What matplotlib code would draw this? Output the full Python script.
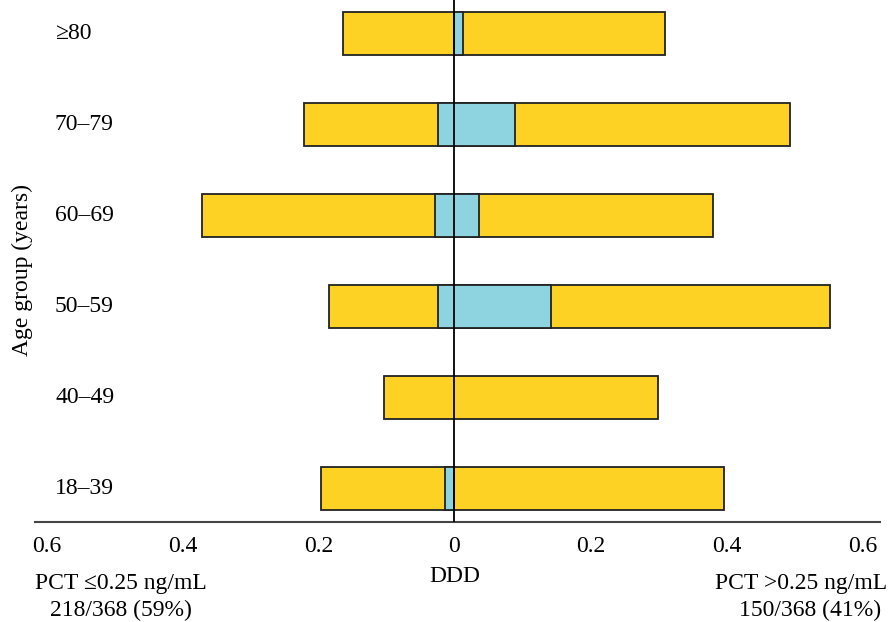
import numpy as np
import matplotlib
matplotlib.use("Agg")
from matplotlib import pyplot as plt
from matplotlib import transforms

plt.rcParams['font.family'] = ['Liberation Serif', 'DejaVu Serif']

# age groups, bottom to top
groups = ['18–39', '40–49', '50–59', '60–69', '70–79', '≥80']
# DDD, PCT <=0.25 side (drawn to the left)
low_total = [0.196, 0.104, 0.184, 0.371, 0.221, 0.164]
low_part = [0.014, 0.0, 0.024, 0.028, 0.024, 0.0]
# DDD, PCT >0.25 side (drawn to the right)
high_total = [0.397, 0.299, 0.553, 0.381, 0.494, 0.310]
high_part = [0.0, 0.0, 0.142, 0.036, 0.089, 0.013]

ticks = [-0.6, -0.4, -0.2, 0, 0.2, 0.4, 0.6]
tick_labels = ['0.6', '0.4', '0.2', '0', '0.2', '0.4', '0.6']

yellow = '#fdd224'
cyan = '#8dd4e0'
fs = 17

fig = plt.figure(figsize=(8.92, 6.22), dpi=100)
ax = fig.add_axes([35/892, 100/622, 845/892, 522/622])

y = np.arange(len(groups))
low_total = np.array(low_total)
high_total = np.array(high_total)
low_part = np.array(low_part)
high_part = np.array(high_part)

ax.barh(y, low_total + high_total, left=-low_total, height=0.48,
        color=yellow, edgecolor='#222222', linewidth=1.3, zorder=2)
has_part = (low_part + high_part) > 0
ax.barh(y[has_part], (low_part + high_part)[has_part], left=-low_part[has_part],
        height=0.48, color=cyan, edgecolor='#222222', linewidth=1.3, zorder=3)

ax.axvline(0, color='black', linewidth=1.3, zorder=4)

ax.set_xlim(-0.617, 0.626)
ax.set_ylim(-0.37, 5.37)
for s in ['top', 'right', 'left']:
    ax.spines[s].set_visible(False)
ax.spines['bottom'].set_color('#444444')
ax.spines['bottom'].set_linewidth(1.5)

ax.set_xticks(ticks)
ax.set_xticklabels(tick_labels, fontsize=fs)
ax.tick_params(axis='x', length=0, pad=10)
ax.set_yticks([])

trans = transforms.blended_transform_factory(ax.transAxes, ax.transData)
for yi, g in zip(y, groups):
    ax.text(20/845, yi, g, transform=trans, ha='left', va='center', fontsize=fs)

fig.text(22/892, 1 - 270/622, 'Age group (years)', rotation=90,
         ha='center', va='center', fontsize=fs)
fig.text(455/892, 1 - 577/622, 'DDD', ha='center', va='center', fontsize=fs)
fig.text(121/892, 1 - 584/622, 'PCT ≤0.25 ng/mL', ha='center', va='center', fontsize=fs)
fig.text(121/892, 1 - 610/622, '218/368 (59%)', ha='center', va='center', fontsize=fs)
fig.text(801/892, 1 - 584/622, 'PCT >0.25 ng/mL', ha='center', va='center', fontsize=fs)
fig.text(810/892, 1 - 610/622, '150/368 (41%)', ha='center', va='center', fontsize=fs)

fig.savefig('out.png', dpi=100)
